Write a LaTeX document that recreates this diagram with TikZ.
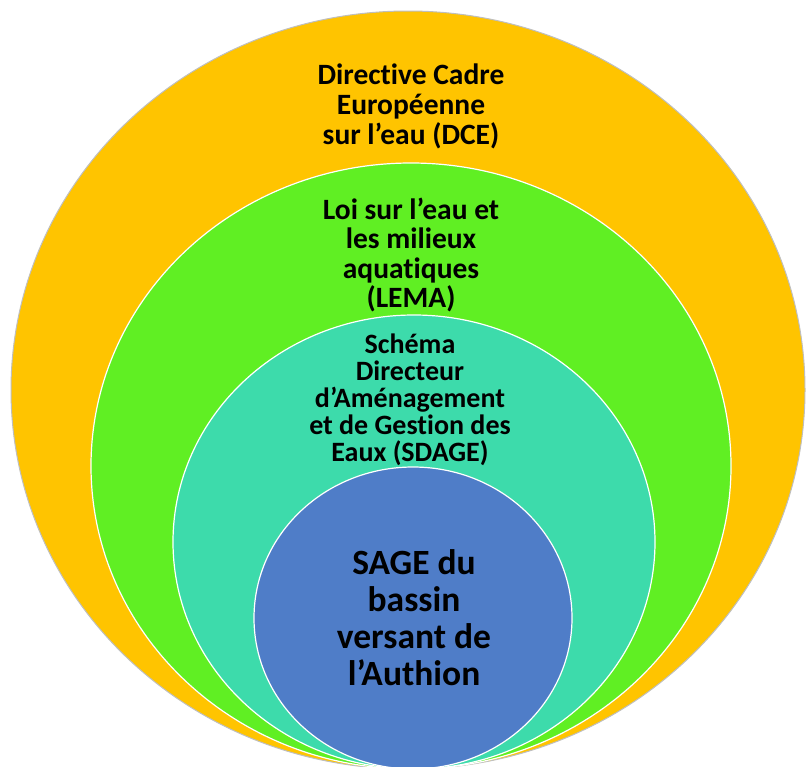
\documentclass[tikz,border=0pt]{standalone}
\usepackage{fontspec}
\setmainfont{Carlito}[RawFeature=-liga]
\usepackage{tikz}
\usetikzlibrary{shapes.geometric}
\definecolor{dceyellow}{HTML}{FFC400}
\definecolor{lemagreen}{HTML}{60EF23}
\definecolor{sdageteal}{HTML}{3DDBAB}
\definecolor{sageblue}{HTML}{4F7DC8}
\tikzstyle{ring} = [ellipse, draw=white, line width=1.2pt, inner sep=0pt]
\tikzstyle{txt} = [align=center, text=black, inner sep=0pt, font=\bfseries\fontsize{29.5}{30}\selectfont]

\begin{document}
\begin{tikzpicture}[x=1pt, y=-1pt]
\useasboundingbox (0,0) rectangle (808,766);
\node [ring, draw=black!25, line width=1pt, fill=dceyellow, minimum width=794pt, minimum height=758pt] (dce) at (408,390) {};
\node [ring, fill=lemagreen, minimum width=640pt, minimum height=606pt] (lema) at (411,466) {};
\node [ring, fill=sdageteal, minimum width=482pt, minimum height=454pt] (sdage) at (414,542) {};
\node [ring, fill=sageblue, minimum width=318pt, minimum height=302pt] (sage) at (413,618) {};
% Labels
\node [txt] (dcetxt) at (411,106) {Directive Cadre\\Européenne\\sur l’eau (DCE)};
\node [txt, font=\bfseries\fontsize{29.5}{29.5}\selectfont] (lematxt) at (411,255) {Loi sur l’eau et\\les milieux\\aquatiques\\(LEMA)};
\node [txt, font=\bfseries\fontsize{28}{27}\selectfont] (sdagetxt) at (410,400) {Schéma\\Directeur\\d’Aménagement\\et de Gestion des\\Eaux (SDAGE)};
\node [txt, font=\bfseries\fontsize{35.5}{37}\selectfont] (sagetxt) at (414,618) {SAGE du\\bassin\\versant de\\l’Authion};
\end{tikzpicture}
\end{document}
